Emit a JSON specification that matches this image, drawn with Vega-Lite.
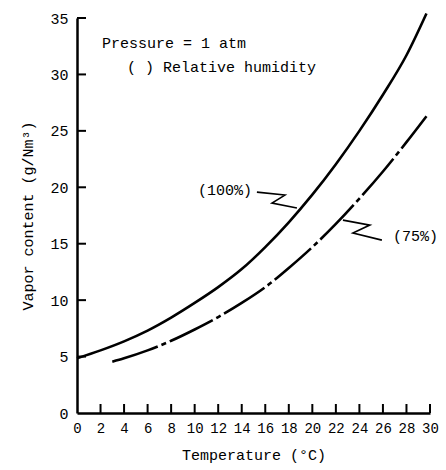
{
  "$schema": "https://vega.github.io/schema/vega-lite/v6.json",
  "autosize": {"type": "none"},
  "width": 353,
  "height": 395,
  "padding": {"left": 77, "top": 18, "right": 16, "bottom": 57},
  "background": "white",
  "config": {
    "view": {"stroke": null},
    "font": "Liberation Mono",
    "axis": {
      "labelFont": "Liberation Mono",
      "titleFont": "Liberation Mono",
      "labelColor": "black",
      "titleColor": "black",
      "domainColor": "black",
      "tickColor": "black",
      "domainWidth": 2.5,
      "grid": false,
      "ticks": false,
      "titleFontWeight": "normal"
    }
  },
  "datasets": {
    "curves": [
      {"T": 0, "V": 4.85, "RH": "100%"},
      {"T": 2, "V": 5.55, "RH": "100%"},
      {"T": 4, "V": 6.35, "RH": "100%"},
      {"T": 6, "V": 7.3, "RH": "100%"},
      {"T": 8, "V": 8.45, "RH": "100%"},
      {"T": 10, "V": 9.75, "RH": "100%"},
      {"T": 12, "V": 11.15, "RH": "100%"},
      {"T": 14, "V": 12.75, "RH": "100%"},
      {"T": 16, "V": 14.7, "RH": "100%"},
      {"T": 18, "V": 16.9, "RH": "100%"},
      {"T": 20, "V": 19.35, "RH": "100%"},
      {"T": 22, "V": 22.05, "RH": "100%"},
      {"T": 24, "V": 25.0, "RH": "100%"},
      {"T": 26, "V": 28.2, "RH": "100%"},
      {"T": 28, "V": 31.7, "RH": "100%"},
      {"T": 29.7, "V": 35.4, "RH": "100%"},
      {"T": 3, "V": 4.55, "RH": "75%"},
      {"T": 4, "V": 4.85, "RH": "75%"},
      {"T": 6, "V": 5.55, "RH": "75%"},
      {"T": 8, "V": 6.4, "RH": "75%"},
      {"T": 10, "V": 7.4, "RH": "75%"},
      {"T": 12, "V": 8.5, "RH": "75%"},
      {"T": 14, "V": 9.75, "RH": "75%"},
      {"T": 16, "V": 11.15, "RH": "75%"},
      {"T": 18, "V": 12.85, "RH": "75%"},
      {"T": 20, "V": 14.7, "RH": "75%"},
      {"T": 22, "V": 16.75, "RH": "75%"},
      {"T": 24, "V": 19.0, "RH": "75%"},
      {"T": 26, "V": 21.4, "RH": "75%"},
      {"T": 28, "V": 24.0, "RH": "75%"},
      {"T": 29.7, "V": 26.3, "RH": "75%"}
    ],
    "leaders": [
      {"id": "a", "seq": 1, "T": 15.29, "V": 19.57},
      {"id": "a", "seq": 2, "T": 17.67, "V": 19.31},
      {"id": "a", "seq": 3, "T": 16.57, "V": 18.6},
      {"id": "a", "seq": 4, "T": 18.69, "V": 18.16},
      {"id": "b", "seq": 1, "T": 22.6, "V": 17.09},
      {"id": "b", "seq": 2, "T": 24.89, "V": 16.65},
      {"id": "b", "seq": 3, "T": 23.45, "V": 15.94},
      {"id": "b", "seq": 4, "T": 25.91, "V": 15.32}
    ],
    "labels": [
      {"T": 2.12, "V": 32.77, "txt": "Pressure = 1 atm"},
      {"T": 4.25, "V": 30.65, "txt": "( ) Relative humidity"},
      {"T": 10.28, "V": 19.75, "txt": "(100%)"},
      {"T": 26.85, "V": 15.68, "txt": "(75%)"}
    ],
    "xticks": [
      {"T": 2, "V": 0}, {"T": 4, "V": 0}, {"T": 6, "V": 0}, {"T": 8, "V": 0}, {"T": 10, "V": 0},
      {"T": 12, "V": 0}, {"T": 14, "V": 0}, {"T": 16, "V": 0}, {"T": 18, "V": 0}, {"T": 20, "V": 0},
      {"T": 22, "V": 0}, {"T": 24, "V": 0}, {"T": 26, "V": 0}, {"T": 28, "V": 0}, {"T": 30, "V": 0}
    ],
    "yticks": [
      {"T": 0, "V": 5}, {"T": 0, "V": 10}, {"T": 0, "V": 15}, {"T": 0, "V": 20},
      {"T": 0, "V": 25}, {"T": 0, "V": 30}, {"T": 0, "V": 35}
    ]
  },
  "encoding": {
    "x": {
      "field": "T", "type": "quantitative",
      "scale": {"domain": [0, 30], "nice": false, "zero": false},
      "axis": {
        "values": [0, 2, 4, 6, 8, 10, 12, 14, 16, 18, 20, 22, 24, 26, 28, 30],
        "title": "Temperature (°C)",
        "titleFontSize": 15,
        "titlePadding": 12,
        "labelFontSize": 14,
        "labelPadding": 8,
        "labelFlush": false,
        "labelOverlap": false,
        "labelBound": false
      }
    },
    "y": {
      "field": "V", "type": "quantitative",
      "scale": {"domain": [0, 35], "nice": false},
      "axis": {
        "values": [0, 5, 10, 15, 20, 25, 30, 35],
        "title": "Vapor content  (g/Nm³)",
        "titleFontSize": 15,
        "titlePadding": 14,
        "labelFontSize": 15,
        "labelPadding": 9,
        "labelFlush": false,
        "labelOverlap": false
      }
    }
  },
  "layer": [
    {
      "data": {"name": "xticks"},
      "mark": {"type": "tick", "orient": "vertical", "size": 9, "thickness": 2, "yOffset": -4.5, "color": "black", "opacity": 1, "clip": false}
    },
    {
      "data": {"name": "yticks"},
      "mark": {"type": "tick", "orient": "horizontal", "size": 9, "thickness": 2, "xOffset": 4.5, "color": "black", "opacity": 1, "clip": false}
    },
    {
      "data": {"name": "curves"},
      "transform": [{"filter": "datum.RH === '100%'"}],
      "mark": {"type": "line", "color": "black", "strokeWidth": 2.6, "interpolate": "monotone", "clip": false}
    },
    {
      "data": {"name": "curves"},
      "transform": [{"filter": "datum.RH === '75%'"}],
      "mark": {"type": "line", "color": "black", "strokeWidth": 2.6, "interpolate": "monotone", "strokeDash": [48, 4, 5, 4], "clip": false}
    },
    {
      "data": {"name": "leaders"},
      "mark": {"type": "line", "color": "black", "strokeWidth": 1.6},
      "encoding": {
        "detail": {"field": "id"},
        "order": {"field": "seq"}
      }
    },
    {
      "data": {"name": "labels"},
      "mark": {"type": "text", "align": "left", "baseline": "middle", "fontSize": 15, "font": "Liberation Mono", "color": "black"},
      "encoding": {
        "text": {"field": "txt"}
      }
    }
  ]
}
